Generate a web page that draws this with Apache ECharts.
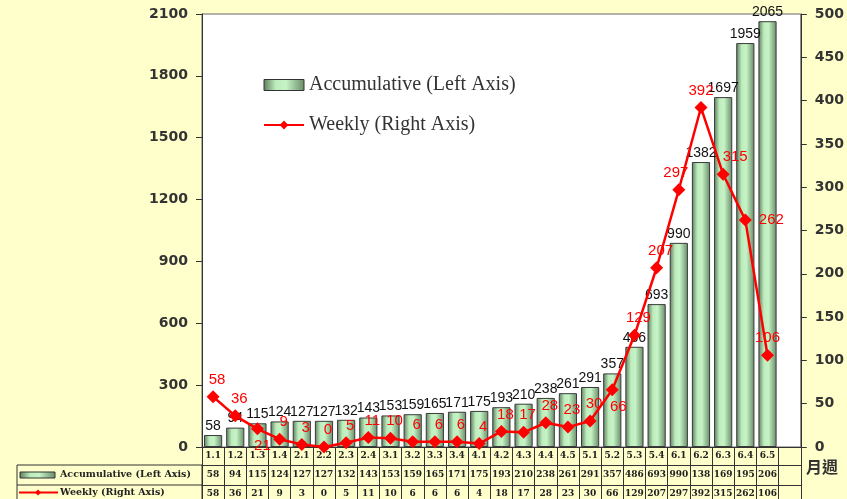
<!DOCTYPE html>
<html><head><meta charset="utf-8">
<script src="https://cdn.jsdelivr.net/npm/echarts@6/dist/echarts.min.js"></script>
<style>html,body{margin:0;padding:0;background:#FFFFCC;}#c{width:847px;height:499px;}</style>
</head><body><div id="c"></div>
<script>
const categories = ['1.1','1.2','1.3','1.4','2.1','2.2','2.3','2.4','3.1','3.2','3.3','3.4','4.1','4.2','4.3','4.4','4.5','5.1','5.2','5.3','5.4','6.1','6.2','6.3','6.4','6.5'];
const accumulative = [58,94,115,124,127,127,132,143,153,159,165,171,175,193,210,238,261,291,357,486,693,990,1382,1697,1959,2065];
const weekly = [58,36,21,9,3,0,5,11,10,6,6,6,4,18,17,28,23,30,66,129,207,297,392,315,262,106];
const leftAxis = {min:0, max:2100, interval:300};
const rightAxis = {min:0, max:500, interval:50};
const accName = 'Accumulative (Left Axis)';
const weekName = 'Weekly (Right Axis)';
const unitLabel = '月週';

// label placement tweaks for the weekly line (style only)
const weeklyLabelStyle = {2:{position:'bottom',offset:[5,0]}, 18:{position:'bottom',offset:[6,0]}, 23:{offset:[12,0]}, 24:{position:'right',offset:[4,0]}, 21:{offset:[-3,0]}, 22:{offset:[0,0]}, 25:{offset:[0,0]}};

const G = {left:202, right:46, top:14, bottom:52};
const W = 847, H = 499;
const axisY = H - G.bottom;

const barGrad = new echarts.graphic.LinearGradient(0,0,1,0,[
  {offset:0,color:'#5c7c5c'},{offset:0.3,color:'#bdecbd'},{offset:0.55,color:'#c6f4c6'},{offset:1,color:'#678a67'}]);

const tableFont = {fontFamily:'DejaVu Serif', fontWeight:'bold', fontSize:9, color:'#222'};
const axisFont = {fontFamily:'DejaVu Sans', fontWeight:'bold', fontSize:14, color:'#333', formatter:(v)=>String(v)};

const chart = echarts.init(document.getElementById('c'), null, {renderer:'canvas'});
const lineData = weekly.map((v,i)=>{
  const s = weeklyLabelStyle[i];
  return s ? {value:v, label:Object.assign({}, s)} : v;
});
chart.setOption({
  backgroundColor:'#FFFFCC',
  animation:false,
  grid:{left:G.left, right:G.right, top:G.top, bottom:G.bottom, show:true, backgroundColor:'#ffffff', borderColor:'#666', borderWidth:1},
  legend:{orient:'vertical', left:258, top:70, itemGap:20, itemWidth:40, itemHeight:11,
    textStyle:{fontFamily:'Liberation Serif', fontSize:20, color:'#333'},
    data:[{name:accName, icon:'rect', itemStyle:{color:barGrad, borderColor:'#333', borderWidth:1}}, {name:weekName}]},
  xAxis:[
    {type:'category', data:categories.concat(['']), position:'bottom',
     axisLine:{onZero:false, lineStyle:{color:'#333', width:1}},
     axisTick:{show:true, interval:0, length:G.bottom, lineStyle:{color:'#333'}},
     axisLabel:Object.assign({interval:0, margin:4}, tableFont)},
    {type:'category', data:accumulative.map(String).concat(['']), position:'bottom', offset:18,
     axisLine:{onZero:false, lineStyle:{color:'#333', width:1}}, axisTick:{show:false},
     axisLabel:Object.assign({interval:0, margin:5, width:20, overflow:'truncate', ellipsis:''}, tableFont)},
    {type:'category', data:weekly.map(String).concat(['']), position:'bottom', offset:38,
     axisLine:{onZero:false, lineStyle:{color:'#333', width:1}}, axisTick:{show:false},
     axisLabel:Object.assign({interval:0, margin:4, width:20, overflow:'truncate', ellipsis:''}, tableFont)}
  ],
  yAxis:[
    {type:'value', position:'left', min:leftAxis.min, max:leftAxis.max, interval:leftAxis.interval,
     axisLine:{show:true, lineStyle:{color:'#333'}}, axisTick:{show:true, length:6, lineStyle:{color:'#333'}},
     splitLine:{show:false}, axisLabel:Object.assign({margin:14}, axisFont)},
    {type:'value', position:'right', min:rightAxis.min, max:rightAxis.max, interval:rightAxis.interval,
     axisLine:{show:true, lineStyle:{color:'#333'}}, axisTick:{show:true, length:6, lineStyle:{color:'#333'}},
     splitLine:{show:false}, axisLabel:Object.assign({margin:14}, axisFont)}
  ],
  series:[
    {name:accName, type:'bar', xAxisIndex:0, yAxisIndex:0, data:accumulative, barCategoryGap:'18%',
     itemStyle:{color:barGrad, borderColor:'#3a3a3a', borderWidth:1},
     label:{show:true, position:'top', distance:2, color:'#111', fontFamily:'Liberation Sans', fontSize:14}},
    {name:weekName, type:'line', xAxisIndex:0, yAxisIndex:1, data:lineData, z:5,
     symbol:'diamond', symbolSize:13,
     lineStyle:{color:'#ff0000', width:2.5}, itemStyle:{color:'#ff0000'},
     label:{show:true, position:'top', distance:3, offset:[4,0], color:'#ff0000', fontFamily:'Liberation Sans', fontSize:15}}
  ],
  graphic:[
    {type:'rect', shape:{x:17, y:axisY+18, width:G.left-17, height:40}, style:{fill:'none', stroke:'#333', lineWidth:1}, silent:true},
    {type:'line', shape:{x1:17, y1:axisY+38, x2:G.left, y2:axisY+38}, style:{stroke:'#333', lineWidth:1}, silent:true},
    {type:'rect', shape:{x:20, y:axisY+25, width:35, height:6}, style:{fill:barGrad, stroke:'#333', lineWidth:1}, silent:true},
    {type:'line', shape:{x1:19, y1:axisY+45.5, x2:58, y2:axisY+45.5}, style:{stroke:'#ff0000', lineWidth:2}, silent:true},
    {type:'polygon', shape:{points:[[38,axisY+42.5],[41,axisY+45.5],[38,axisY+48.5],[35,axisY+45.5]]}, style:{fill:'#ff0000'}, silent:true},
    {type:'text', x:60, y:axisY+28, style:{text:accName, verticalAlign:'middle', fill:'#222', font:'bold 9.5px "DejaVu Serif"'}, silent:true},
    {type:'text', x:60, y:axisY+46, style:{text:weekName, verticalAlign:'middle', fill:'#222', font:'bold 9.5px "DejaVu Serif"'}, silent:true},
    {type:'text', x:822, y:axisY+20, style:{text:unitLabel, align:'center', verticalAlign:'middle', fill:'#333', font:'bold 16px "Noto Sans CJK TC"'}, silent:true}
  ]
});
</script></body></html>
